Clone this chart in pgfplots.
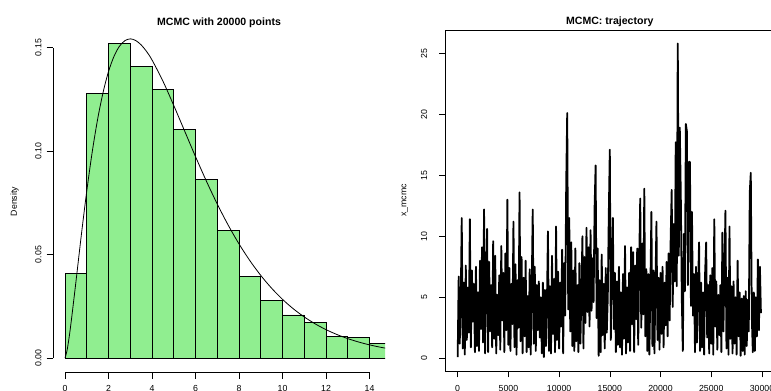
\documentclass[border=0pt]{standalone}
\usepackage{pgfplots}
\pgfplotsset{compat=1.18}
\usepackage{fontspec}
\setmainfont{Liberation Sans}
\definecolor{rgreen}{HTML}{90EE90}

\pgfplotstableread{
it v
0 0.1
100 6.7
200 1.2
300 4.5
400 11.5
500 0.8
600 6.2
700 0.3
800 7.6
900 1.5
1000 5.8
1100 2.1
1200 11.4
1300 0.9
1400 7.2
1500 3.0
1600 6.1
1700 0.5
1800 7.5
1900 1.0
2000 5.4
2100 0.6
2200 8.0
2300 2.4
2400 9.1
2500 1.3
2600 12.2
2700 0.4
2800 6.5
2900 10.6
3000 0.5
3100 7.9
3200 2.2
3300 6.0
3400 0.9
3500 9.6
3600 1.6
3700 8.4
3800 0.4
3900 5.2
4000 1.9
4100 6.8
4200 0.7
4300 9.2
4400 3.1
4500 7.0
4600 0.5
4700 8.6
4800 2.3
4900 13.0
5000 1.1
5100 7.4
5200 0.6
5300 6.1
5400 2.8
5500 11.2
5600 0.9
5700 7.7
5800 0.3
5900 6.4
6000 2.5
6100 13.6
6200 1.4
6300 8.3
6400 0.4
6500 6.6
6600 1.8
6700 8.0
6800 0.5
6900 5.1
7000 0.9
7100 7.3
7200 0.3
7300 5.7
7400 12.2
7500 1.2
7600 7.5
7700 0.6
7800 6.0
7900 2.3
8000 6.3
8100 1.7
8200 5.0
8300 0.4
8400 6.2
8500 0.1
8600 5.6
8700 1.0
8800 4.4
8900 10.4
9000 0.6
9100 5.9
9200 0.4
9300 8.4
9400 2.0
9500 6.5
9600 0.5
9700 10.8
9800 1.5
9900 7.1
10000 0.8
10100 6.2
10200 2.6
10300 8.9
10400 0.4
10500 7.8
10600 3.5
10700 14.2
10800 20.1
10900 4.0
11000 11.5
11100 2.2
11200 9.5
11300 1.0
11400 7.2
11500 0.6
11600 9.0
11700 1.4
11800 6.0
11900 0.5
12000 7.8
12100 1.2
12200 5.5
12300 10.0
12400 0.8
12500 8.3
12600 2.9
12700 10.7
12800 3.8
12900 9.1
13000 2.6
13100 10.5
13200 3.9
13300 8.2
13400 4.6
13500 12.4
13600 15.8
13700 3.3
13800 9.0
13900 0.2
14000 6.4
14100 0.5
14200 8.5
14300 1.9
14400 6.1
14500 0.8
14600 7.4
14700 2.1
14800 5.0
14900 11.8
15000 17.1
15100 1.5
15200 7.9
15300 11.5
15400 2.4
15500 7.0
15600 0.5
15700 6.3
15800 1.1
15900 7.5
16000 0.9
16100 5.4
16200 0.3
16300 6.9
16400 1.6
16500 9.2
16600 0.4
16700 5.8
16800 1.3
16900 7.0
17000 0.6
17100 9.1
17200 2.8
17300 8.7
17400 0.5
17500 7.6
17600 3.2
17700 9.0
17800 1.1
17900 8.2
18000 13.1
18100 2.5
18200 9.4
18300 3.6
18400 13.9
18500 1.8
18600 7.3
18700 0.6
18800 6.9
18900 0.3
19000 5.8
19100 12.0
19200 1.0
19300 7.2
19400 0.4
19500 6.1
19600 11.2
19700 1.5
19800 6.6
19900 0.7
20000 7.0
20100 2.0
20200 7.5
20300 0.9
20400 6.2
20500 2.7
20600 7.9
20700 1.8
20800 8.6
20900 3.1
21000 9.8
21100 13.8
21200 4.2
21300 11.0
21400 6.3
21500 17.7
21600 5.9
21700 25.8
21800 8.4
21900 18.9
22000 13.3
22100 4.8
22200 0.6
22300 10.2
22400 5.5
22500 19.2
22600 18.6
22700 6.0
22800 16.1
22900 16.1
23000 4.3
23100 12.0
23200 3.5
23300 6.9
23400 0.5
23500 7.5
23600 1.3
23700 5.8
23800 9.5
23900 0.6
24000 6.2
24100 0.9
24200 5.4
24300 0.3
24400 7.1
24500 9.5
24600 1.7
24700 6.0
24800 0.4
24900 6.8
25000 1.2
25100 7.4
25200 0.3
25300 11.4
25400 2.6
25500 6.3
25600 0.7
25700 5.2
25800 1.9
25900 6.0
26000 0.5
26100 10.3
26200 2.2
26300 7.0
26400 12.1
26500 0.8
26600 6.6
26700 0.3
26800 10.8
26900 1.6
27000 5.9
27100 0.4
27200 6.3
27300 1.2
27400 5.0
27500 0.3
27600 8.0
27700 1.8
27800 5.4
27900 0.2
28000 4.9
28100 0.6
28200 5.1
28300 0.3
28400 5.5
28500 1.0
28600 4.8
28700 2.2
28800 13.6
28900 15.2
29000 3.4
29100 0.5
29200 5.4
29300 0.6
29400 5.0
29500 1.8
29600 8.1
29700 2.3
29800 7.5
29900 3.7
}\trajtable

\begin{document}
\begin{tikzpicture}[x=1bp,y=1bp]
\path[use as bounding box] (0,0) rectangle (771,390);
\pgfplotsset{
  rstyle/.style={
    scale only axis, anchor=south west,
    tick align=outside, major tick length=6.5bp,
    tick pos=left,
    tick style={black, line width=0.6bp},
    scaled ticks=false,
    /pgf/number format/assume math mode=true,
    ticklabel style={font=\fontsize{8.8}{10}\selectfont, inner sep=0pt},
    label style={font=\fontsize{8.8}{10}\selectfont},
    title style={font=\fontsize{10.6}{12}\selectfont\bfseries, at={(axis description cs:0.5,1)}, yshift=-6.5bp},
    xticklabel style={anchor=north},
  }
}
\begin{axis}[rstyle, at={(53bp,18bp)}, width=332bp, height=341bp,
  xmin=-0.5517, xmax=14.71, ymin=-0.00676, ymax=0.158,
  axis line style={draw=none}, clip mode=individual,
  xtick={0,2,...,14}, ytick={0,0.05,0.10,0.15},
  yticklabel style={rotate=90, anchor=south, yshift=4.8bp, /pgf/number format/.cd, fixed, fixed zerofill, precision=2},
  xticklabel style={yshift=-6.5bp},
  ylabel={Density}, ylabel style={at={([xshift=-38.5bp]axis description cs:0,0.5)}, anchor=center},
  title={MCMC with 20000 points}]
\addplot[ybar interval, fill=rgreen, draw=black, line width=0.7bp] coordinates {
(0,0.0409) (1,0.1279) (2,0.1520) (3,0.1410) (4,0.1298) (5,0.1105) (6,0.0863) (7,0.0615)
(8,0.0393) (9,0.0279) (10,0.0208) (11,0.0171) (12,0.0106) (13,0.0100) (14,0.0069) (15,0.0069)};
\addplot[black, line width=0.8bp, smooth] coordinates {
(0,0) (0.1,0.0040) (0.25,0.01467) (0.5,0.03662) (0.75,0.05936) (1,0.08066) (1.25,0.09948)
(1.5,0.1154) (1.75,0.1283) (2,0.1384) (2.25,0.1457) (2.5,0.1506) (2.75,0.1533) (3,0.1542)
(3.25,0.1534) (3.5,0.1513) (3.75,0.1481) (4,0.1440) (4.5,0.1338) (5,0.1220) (5.5,0.10965)
(6,0.09730) (6.5,0.08545) (7,0.07437) (7.5,0.06424) (8,0.05511) (8.5,0.04701) (9,0.03989)
(9.5,0.03369) (10,0.02833) (10.5,0.02374) (11,0.01983) (11.5,0.01651) (12,0.01370)
(12.5,0.01135) (13,0.00937) (13.5,0.00772) (14,0.00635) (14.5,0.00521) (15,0.00427)};
\draw[black, line width=0.6bp] (axis cs:0,-0.00676) -- (axis cs:14,-0.00676);
\draw[black, line width=0.6bp] (axis cs:-0.5517,0) -- (axis cs:-0.5517,0.15);
\end{axis}
\begin{axis}[rstyle, at={(445.5bp,19.1bp)}, width=328.6bp, height=340.8bp,
  xmin=-1200, xmax=31200, ymin=-1.035, ymax=26.9,
  axis line style={black, line width=0.6bp},
  xtick={0,5000,...,30000}, ytick={0,5,...,25},
  yticklabel style={rotate=90, anchor=south, yshift=11.5bp},
  xticklabel style={yshift=-7.5bp, /pgf/number format/1000 sep={}},
  ylabel={x\_mcmc}, ylabel style={at={([xshift=-40.5bp]axis description cs:0,0.5)}, anchor=center},
  title={MCMC: trajectory}]
\addplot[black, line width=1.8bp, line join=round] table[x=it, y=v] {\trajtable};
\end{axis}
\end{tikzpicture}
\end{document}
